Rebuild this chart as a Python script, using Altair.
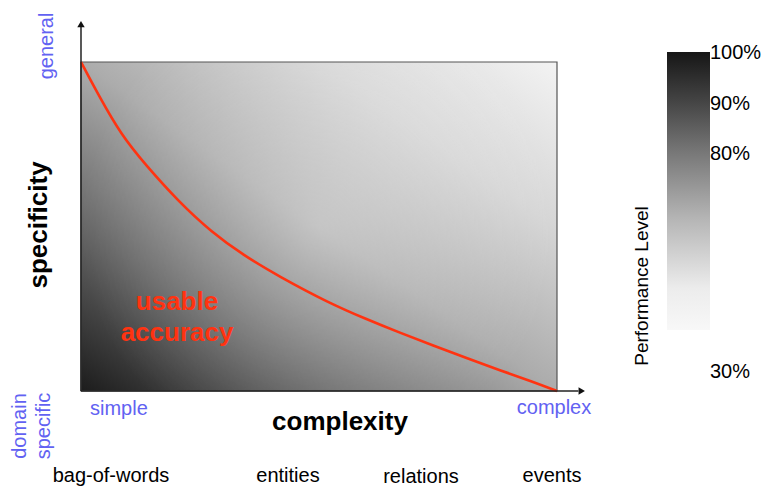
import altair as alt
import pandas as pd

# ---- data (normalized: 0 = simple / domain specific, 1 = complex / general)
curve_complexity = [0.0, 0.036, 0.085, 0.134, 0.204, 0.274, 0.344, 0.414, 0.520,
                    0.600, 0.670, 0.740, 0.810, 0.880, 0.950, 1.0]
curve_specificity = [1.0, 0.901, 0.777, 0.690, 0.577, 0.483, 0.410, 0.350, 0.268,
                     0.218, 0.177, 0.138, 0.100, 0.063, 0.028, 0.0]
complexity_levels = ["bag-of-words", "entities", "relations", "events"]
legend_ticks = ["100%", "90%", "80%", "30%"]
legend_title = "Performance Level"

W, H = 753, 480
FONT = "Liberation Sans"
BLUE = "#6262f2"
RED = "#ff3311"

xs = alt.Scale(domain=[-0.15336, 1.42857], nice=False, zero=False)
ys = alt.Scale(domain=[-0.29483, 1.16413], nice=False, zero=False)

curve = pd.DataFrame({"c": curve_complexity, "s": curve_specificity})
frame = pd.DataFrame({"x0": [0.0], "x1": [1.0], "y0": [0.0], "y1": [1.0]})

bg_grad = alt.Gradient(
    gradient="linear", x1=0, y1=1, x2=1, y2=0,
    stops=[
        alt.GradientStop(color="#1c1c1c", offset=0.0),
        alt.GradientStop(color="#666666", offset=0.25),
        alt.GradientStop(color="#acacac", offset=0.5),
        alt.GradientStop(color="#d6d6d6", offset=0.75),
        alt.GradientStop(color="#f3f3f3", offset=1.0),
    ],
)
glow = alt.Gradient(
    gradient="radial", x1=0.5, y1=0.5, r1=0, x2=0.5, y2=0.5, r2=0.5,
    stops=[
        alt.GradientStop(color="rgba(255,255,255,0.3)", offset=0.0),
        alt.GradientStop(color="rgba(255,255,255,0.12)", offset=0.6),
        alt.GradientStop(color="rgba(255,255,255,0)", offset=1.0),
    ],
)

bg = alt.Chart(frame).mark_rect(fill=bg_grad).encode(
    x=alt.X("x0:Q", scale=xs, axis=None), x2="x1:Q",
    y=alt.Y("y0:Q", scale=ys, axis=None), y2="y1:Q",
)
bg_glow = alt.Chart(frame).mark_rect(fill=glow, stroke="#555555", strokeWidth=1.2).encode(
    x=alt.X("x0:Q", scale=xs, axis=None), x2="x1:Q",
    y=alt.Y("y0:Q", scale=ys, axis=None), y2="y1:Q",
)

line = alt.Chart(curve).mark_line(color=RED, strokeWidth=2.6, interpolate="basis").encode(
    x=alt.X("c:Q", scale=xs, axis=None),
    y=alt.Y("s:Q", scale=ys, axis=None),
)

yaxis = alt.Chart(frame).mark_rule(color="#222222", strokeWidth=1.5).encode(
    x=alt.datum(0, scale=xs), y=alt.datum(0, scale=ys), y2=alt.datum(1.11)
)
xaxis = alt.Chart(frame).mark_rule(color="#222222", strokeWidth=1.5).encode(
    x=alt.datum(0, scale=xs), x2=alt.datum(1.045), y=alt.datum(0, scale=ys)
)
yarrow = alt.Chart(frame).mark_point(shape="triangle-up", filled=True, color="#111111", size=55, opacity=1).encode(
    x=alt.datum(0, scale=xs), y=alt.datum(1.115, scale=ys)
)
xarrow = alt.Chart(frame).mark_point(shape="triangle-right", filled=True, color="#111111", size=55, opacity=1).encode(
    x=alt.datum(1.052, scale=xs), y=alt.datum(0, scale=ys)
)

cb_grad = alt.Gradient(
    gradient="linear", x1=0, y1=0, x2=0, y2=1,
    stops=[
        alt.GradientStop(color="#161616", offset=0.0),
        alt.GradientStop(color="#454545", offset=0.18),
        alt.GradientStop(color="#777777", offset=0.36),
        alt.GradientStop(color="#b5b5b5", offset=0.6),
        alt.GradientStop(color="#ececec", offset=0.85),
        alt.GradientStop(color="#f8f8f8", offset=1.0),
    ],
)
colorbar = alt.Chart(frame).mark_rect(fill=cb_grad).encode(
    x=alt.value(659), x2=alt.value(702), y=alt.value(44), y2=alt.value(322)
)


def label(text, x, y, size=20, color="black", bold=False, angle=0, align="center"):
    return alt.Chart(pd.DataFrame({"t": [text]})).mark_text(
        font=FONT, fontSize=size, color=color, fontWeight="bold" if bold else "normal",
        angle=angle, align=align, baseline="middle",
    ).encode(text="t:N", x=alt.value(x), y=alt.value(y))


texts = [
    label("general", 39, 38, color=BLUE, angle=270),
    label("specificity", 31, 217, size=26, bold=True, angle=270),
    label("domain", 12, 418, color=BLUE, angle=270),
    label("specific", 36, 418, color=BLUE, angle=270),
    label("simple", 82, 401, color=BLUE, align="left"),
    label("complexity", 332, 414, size=26, bold=True),
    label("complex", 546, 400, color=BLUE),
    label(complexity_levels[0], 103, 468),
    label(complexity_levels[1], 280, 468),
    label(complexity_levels[2], 413, 469),
    label(complexity_levels[3], 544, 468),
    label("usable", 169, 294, size=26, bold=True, color=RED),
    label("accuracy", 169, 325, size=26, bold=True, color=RED),
    label(legend_ticks[0], 702, 45, size=20, align="left"),
    label(legend_ticks[1], 702, 96, size=20, align="left"),
    label(legend_ticks[2], 702, 146, size=20, align="left"),
    label(legend_ticks[3], 702, 364, size=20, align="left"),
    label(legend_title, 634, 278, size=19, angle=270),
]

chart = alt.layer(bg, bg_glow, line, yaxis, xaxis, yarrow, xarrow, colorbar, *texts).properties(
    width=W, height=H, padding=0, autosize="none", background="white"
).configure_view(stroke=None)

chart.save("out.html", embed_options={"renderer": "svg", "actions": False})
